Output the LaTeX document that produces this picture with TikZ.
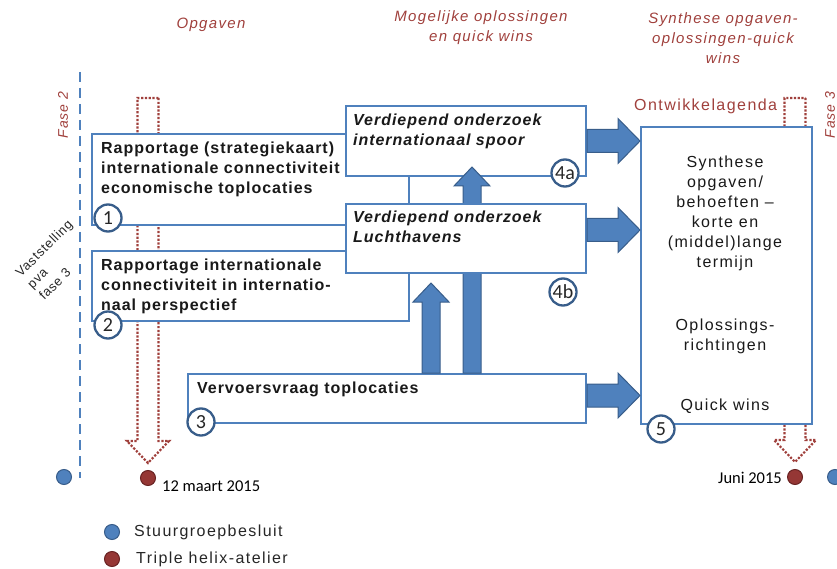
\documentclass[tikz,border=0pt]{standalone}
\usepackage{fontspec}
\setmainfont{Liberation Sans}[LetterSpace=6]
\newfontfamily\widefont{Liberation Sans}[LetterSpace=9, Ligatures=TeX]
\newfontfamily\datefont{Carlito}
\usetikzlibrary{calc}

\definecolor{boxblue}{RGB}{79,129,189}
\definecolor{edgeblue}{RGB}{56,93,138}
\definecolor{phasered}{RGB}{160,64,60}
\definecolor{dotred}{RGB}{149,55,53}
\definecolor{dotedge}{RGB}{105,35,35}

\begin{document}
\begin{tikzpicture}[x=1pt, y=-1pt,
	box/.style={draw=boxblue, line width=2pt, fill=white, anchor=north west, inner sep=0pt},
	boxtext/.style={anchor=north west, inner sep=0pt, align=left, text=black!90,
		font=\fontsize{16}{20}\selectfont\bfseries},
	synthtext/.style={anchor=north, inner sep=0pt, align=center, text=black!90,
		font=\widefont\fontsize{16}{20}\selectfont},
	phasehead/.style={text=phasered, align=center, inner sep=0pt,
		font=\widefont\itshape\fontsize{15}{20}\selectfont},
	phasetag/.style={text=phasered, rotate=90, inner sep=0pt,
		font=\itshape\fontsize{14}{16}\selectfont},
	numcircle/.style={circle, draw=edgeblue, line width=2.3pt, fill=white,
		minimum size=27pt, inner sep=0pt, text=black!85,
		font=\datefont\fontsize{20}{20}\selectfont},
	bluedot/.style={circle, fill=boxblue, draw=edgeblue, line width=1pt,
		minimum size=15pt, inner sep=0pt},
	reddot/.style={bluedot, fill=dotred, draw=dotedge},
	blockarrow/.style n args={3}{to path={
		let \p1=(\tikztostart), \p2=(\tikztotarget),
		\n1={atan2(\y2-\y1,\x2-\x1)} in
		($(\p1)+(\n1+90:#1)$)
		-- ($(\p2)+(\n1+180:#3)+(\n1+90:#1)$)
		-- ($(\p2)+(\n1+180:#3)+(\n1+90:#2)$)
		-- (\p2)
		-- ($(\p2)+(\n1+180:#3)+(\n1-90:#2)$)
		-- ($(\p2)+(\n1+180:#3)+(\n1-90:#1)$)
		-- ($(\p1)+(\n1-90:#1)$) -- cycle}},
	bigarrow/.style={blockarrow={11.5pt}{22.5pt}{22pt}, fill=boxblue, draw=edgeblue, line width=1pt},
	uparrow/.style={blockarrow={9pt}{18pt}{19pt}, fill=boxblue, draw=edgeblue, line width=1pt},
	agendaarrow/.style={blockarrow={10.5pt}{21pt}{22pt}, draw=phasered, line width=2.2pt,
		dash pattern=on 2.2pt off 1.6pt}]
	
	\useasboundingbox (0,0) rectangle (837,569);
	
	% kolomkoppen
	\node [phasehead] (hopg) at (211,25) {Opgaven};
	\node [phasehead] (hopl) at (481,28) {Mogelijke oplossingen\\en quick wins};
	\node [phasehead] (hsyn) at (723,38) {Synthese opgaven-\\oplossingen-quick\\wins};
	
	% fase 2
	\draw [boxblue, line width=2.5pt, dash pattern=on 10pt off 6pt] (80,72) -- (80,478);
	\node [phasetag] (f2) at (63,115) {Fase 2};
	\node [phasetag] (f3) at (830,115) {Fase 3};
	\node [rotate=45, anchor=north west, align=left, inner sep=0pt, text=black!85,
	font=\fontsize{13}{16.5}\selectfont] (vast) at (14,271) {Vaststelling\\pva\\fase 3};
	
	% momenten
	\node [bluedot] (sg1) at (64,477) {};
	\node [bluedot] (sg2) at (835,477) {};
	\node [reddot] (th1) at (148,478) {};
	\node [reddot] (th2) at (795,477) {};
	\node [anchor=west, inner sep=0pt, font=\datefont\fontsize{16.5}{18}\selectfont] (d1) at (162,486) {12 maart 2015};
	\node [anchor=east, inner sep=0pt, font=\datefont\fontsize{16.5}{18}\selectfont] (d2) at (782,478) {Juni 2015};
	
	% ateliers
	\coordinate (top1) at (th1 |- 0,98);
	\coordinate (top2) at (th2 |- 0,98);
	\draw [agendaarrow] (top1) to ([yshift=7pt]th1.north);
	\draw [agendaarrow] (top2) to ([yshift=7pt]th2.north);
	
	% opgaven
	\node [box, minimum width=317pt, minimum height=91pt] (b1) at (91,133) {};
	\node [box, minimum width=317pt, minimum height=70pt] (b2) at (91,250) {};
	\node [box, minimum width=398pt, minimum height=49pt] (b3) at (187,373) {};
	\node [box, minimum width=240pt, minimum height=70pt] (b4a) at (345,105) {};
	
	\coordinate (up1) at (472,167);
	\draw [uparrow] (up1 |- b3.north) to (up1);
	
	\node [box, minimum width=240pt, minimum height=69pt] (b4b) at (345,203) {};
	
	\coordinate (up2) at (431,283);
	\draw [uparrow] (up2 |- b3.north) to (up2);
	
	% synthese
	\node [box, minimum width=171pt, minimum height=297pt] (b5) at (640,126) {};
	
	\coordinate (a1) at (b4a.east);
	\coordinate (a2) at ([yshift=8.5pt]b4b.east);
	\coordinate (a3) at ([yshift=3pt]b3.east);
	\draw [bigarrow] (a1) to (a1 -| b5.west);
	\draw [bigarrow] (a2) to (a2 -| b5.west);
	\draw [bigarrow] (a3) to (a3 -| b5.west);
	
	% teksten
	\node [boxtext] (t1) at (101,142) {Rapportage (strategiekaart)\\internationale connectiviteit\\economische toplocaties};
	\node [boxtext] (t2) at (101,259) {Rapportage internationale\\connectiviteit in internatio-\\naal perspectief};
	\node [boxtext] (t3) at (197,382) {Vervoersvraag toplocaties};
	\node [boxtext, font=\fontsize{16}{20}\selectfont\bfseries\itshape] (t4a) at (353,114) {Verdiepend onderzoek\\internationaal spoor};
	\node [boxtext, font=\fontsize{16}{20}\selectfont\bfseries\itshape] (t4b) at (353,211) {Verdiepend onderzoek\\Luchthavens};
	
	\node [synthtext] (t5a) at (725,156) {Synthese\\opgaven/\\behoeften \textendash\\korte en\\(middel)lange\\termijn};
	\node [synthtext] (t5b) at (725,319) {Oplossings-\\richtingen};
	\node [synthtext] (t5c) at (725,399) {Quick wins};
	
	\node [anchor=west, inner sep=0pt, text=phasered, font=\widefont\fontsize{16}{18}\selectfont] (agenda) at (634,106) {Ontwikkelagenda};
	
	% nummers
	\node [numcircle] (n1) at (108,218) {1};
	\node [numcircle] (n2) at (108,325) {2};
	\node [numcircle] (n3) at (201,422) {3};
	\node [numcircle] (n4a) at (565,173) {4a};
	\node [numcircle] (n4b) at (563,292) {4b};
	\node [numcircle] (n5) at (661,429) {5};
	
	% legenda
	\node [bluedot] (lsg) at (112,532) {};
	\node [reddot] (lth) at (112,559) {};
	\node [anchor=west, inner sep=0pt, text=black!85, font=\widefont\fontsize{16}{18}\selectfont] (lsgt) at (134,532) {Stuurgroepbesluit};
	\node [anchor=west, inner sep=0pt, text=black!85, font=\widefont\fontsize{16}{18}\selectfont] (ltht) at (136,559) {Triple helix-atelier};
	
\end{tikzpicture}
\end{document}
